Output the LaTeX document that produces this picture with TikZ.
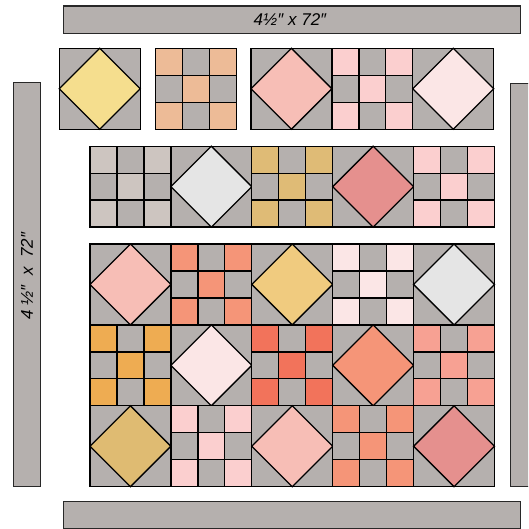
\documentclass[tikz,border=0pt]{standalone}
\usepackage{fontspec}
\setmainfont{Liberation Sans}
\definecolor{qgray}{RGB}{181,176,174}
\definecolor{qyellow}{RGB}{245,222,142}
\definecolor{qpeach}{RGB}{237,187,151}
\definecolor{qpink}{RGB}{247,190,182}
\definecolor{qlpink}{RGB}{251,207,207}
\definecolor{qvlpink}{RGB}{251,230,230}
\definecolor{qtaupe}{RGB}{205,197,192}
\definecolor{qlgray}{RGB}{229,229,229}
\definecolor{qgold}{RGB}{223,187,118}
\definecolor{qrose}{RGB}{229,144,142}
\definecolor{qsalmon}{RGB}{245,149,120}
\definecolor{qmustard}{RGB}{240,203,127}
\definecolor{qorange}{RGB}{238,172,82}
\definecolor{qcoral}{RGB}{242,115,91}
\definecolor{qlsalmon}{RGB}{247,161,147}
\definecolor{qtan}{RGB}{223,187,114}
\definecolor{qbarline}{RGB}{40,40,40}
\newcommand\qsz{80.9}
\newcommand\qcel{26.9667}
\newcommand\qdia[3]{%
  \fill[qgray] (#1,#2) rectangle ++(\qsz,\qsz);
  \filldraw[fill=#3, qline] (#1+\qsz/2,#2) -- (#1+\qsz,#2+\qsz/2) -- (#1+\qsz/2,#2+\qsz) -- (#1,#2+\qsz/2) -- cycle;
  \draw[qline] (#1,#2) rectangle ++(\qsz,\qsz);}
\newcommand\qnine[3]{%
  \fill[qgray] (#1,#2) rectangle ++(\qsz,\qsz);
  \foreach \qi/\qj in {0/0,2/0,1/1,0/2,2/2}
    \fill[#3] (#1+\qi*\qcel,#2+\qj*\qcel) rectangle ++(\qcel,\qcel);
  \foreach \qk in {1,2} {
    \draw[qline] (#1+\qk*\qcel,#2) -- ++(0,\qsz);
    \draw[qline] (#1,#2+\qk*\qcel) -- ++(\qsz,0);}
  \draw[qline] (#1,#2) rectangle ++(\qsz,\qsz);}
\tikzset{
  qline/.style={draw=black, line width=1.3pt, line join=miter},
  qbar/.style={fill=qgray, draw=qbarline, line width=1.2pt},
  qlabel/.style={font=\fontsize{17}{20}\selectfont\itshape, text=black, inner sep=0pt}
}
\begin{document}
\begin{tikzpicture}[x=1pt,y=-1pt]
\useasboundingbox (0,0) rectangle (528,529);
\clip (0,0) rectangle (528,529);
% border strips
\draw[qbar] (63.3,6) rectangle (520.7,33.3);
\draw[qbar] (13.3,82.7) rectangle (40.3,486.7);
\draw[qbar] (510.7,83.3) rectangle (537.7,486.7);
\draw[qbar] (63.3,501.7) rectangle (520.7,528.7);
\node[qlabel] (toplabel) at (290,20) {4½″ x 72″};
\node[qlabel, rotate=90] (leftlabel) at (27,276) {4 ½″ \ x \ 72″};
% row 1
\qdia{59.3}{48.3}{qyellow}
\qnine{155.3}{48.3}{qpeach}
\qdia{251}{48.3}{qpink}
\qnine{331.9}{48.3}{qlpink}
\qdia{412.8}{48.3}{qvlpink}
% row 2
\qnine{90}{146.2}{qtaupe}
\qdia{170.9}{146.2}{qlgray}
\qnine{251.8}{146.2}{qgold}
\qdia{332.7}{146.2}{qrose}
\qnine{413.6}{146.2}{qlpink}
% main grid
\qdia{90}{244}{qpink}
\qnine{170.9}{244}{qsalmon}
\qdia{251.8}{244}{qmustard}
\qnine{332.7}{244}{qvlpink}
\qdia{413.6}{244}{qlgray}
\qnine{90}{324.9}{qorange}
\qdia{170.9}{324.9}{qvlpink}
\qnine{251.8}{324.9}{qcoral}
\qdia{332.7}{324.9}{qsalmon}
\qnine{413.6}{324.9}{qlsalmon}
\qdia{90}{405.8}{qtan}
\qnine{170.9}{405.8}{qlpink}
\qdia{251.8}{405.8}{qpink}
\qnine{332.7}{405.8}{qsalmon}
\qdia{413.6}{405.8}{qrose}
\end{tikzpicture}
\end{document}
